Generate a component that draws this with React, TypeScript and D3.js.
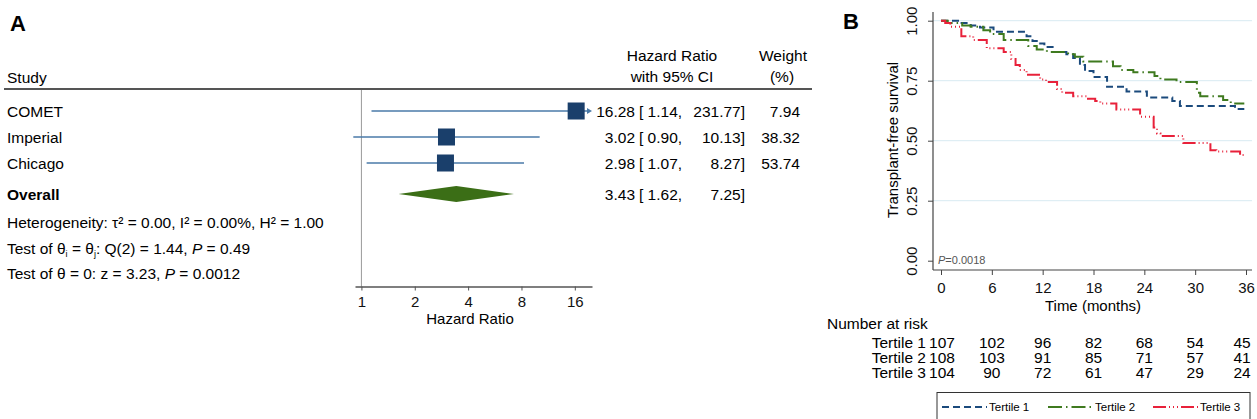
import React, { useEffect, useRef } from 'react';
import * as d3 from 'd3';

const FONT = '"Liberation Sans", Arial, Helvetica, sans-serif';
const FS = 15.5;

// forest plot data
const studies = ['COMET', 'Imperial', 'Chicago'];
const hr = [16.28, 3.02, 2.98];
const ciLow = [1.14, 0.9, 1.07];
const ciHigh = [231.77, 10.13, 8.27];
const weights = [7.94, 38.32, 53.74];
const overallHr = 3.43;
const overallLow = 1.62;
const overallHigh = 7.25;
const hrTicks = [1, 2, 4, 8, 16];

// Kaplan-Meier steps
const t1Times = [0, 2.2, 3.5, 4.6, 6.2, 10.1, 10.8, 11.3, 12.2, 13.3, 14.8, 15.6, 16.4, 17.0, 18.0, 19.6, 21.9, 24.3, 27.3, 28.2, 34.7, 35.8];
const t1Surv = [1.0, 0.99, 0.98, 0.972, 0.954, 0.935, 0.915, 0.905, 0.89, 0.87, 0.86, 0.845, 0.815, 0.79, 0.765, 0.725, 0.705, 0.68, 0.665, 0.645, 0.632, 0.632];
const t2Times = [0, 0.8, 2.5, 3.5, 5.0, 5.8, 7.4, 10.3, 11.3, 12.5, 15.0, 15.8, 16.8, 20.3, 21.2, 22.7, 25.2, 25.9, 27.8, 30.2, 30.6, 33.3, 34.2, 35.8];
const t2Surv = [1.0, 0.99, 0.98, 0.975, 0.96, 0.945, 0.92, 0.895, 0.88, 0.87, 0.86, 0.85, 0.83, 0.81, 0.795, 0.785, 0.77, 0.755, 0.745, 0.7, 0.685, 0.67, 0.655, 0.655];
const t3Times = [0, 0.5, 1.1, 2.4, 3.8, 5.4, 7.4, 8.3, 8.8, 9.3, 10.1, 11.7, 12.4, 13.7, 14.3, 15.6, 17.2, 18.2, 18.8, 20.7, 23.5, 25.1, 25.5, 25.9, 28.6, 31.8, 32.5, 35.3, 35.8];
const t3Surv = [1.0, 0.99, 0.975, 0.935, 0.92, 0.885, 0.87, 0.84, 0.815, 0.795, 0.775, 0.755, 0.745, 0.715, 0.7, 0.685, 0.675, 0.665, 0.655, 0.63, 0.6, 0.555, 0.53, 0.52, 0.49, 0.46, 0.455, 0.44, 0.44];

const tertiles = ['Tertile 1', 'Tertile 2', 'Tertile 3'];
const riskTimes = [0, 6, 12, 18, 24, 30, 36];
const atRisk1 = [107, 102, 96, 82, 68, 54, 45];
const atRisk2 = [108, 103, 91, 85, 71, 57, 41];
const atRisk3 = [104, 90, 72, 61, 47, 29, 24];
const survTicks = [0, 0.25, 0.5, 0.75, 1];

const curveStyles = [
  { color: '#1b4a7c', dash: '7,4' },
  { color: '#3f7a1f', dash: '14,4,1.5,4' },
  { color: '#e8213a', dash: '13,3,1,3,1,3,1,3' },
];

const hrScale = d3.scaleLog().base(2).domain([0.92, 20]).range([355, 592]);
const rowY = d3.scalePoint<string>().domain(studies).range([111, 163]);
const overallY = 194;
const forestAxisY = 286.5;

const tx = d3.scaleLinear().domain([0, 36]).range([941, 1246]);
const sy = d3.scaleLinear().domain([0, 1]).range([260.7, 20.7]);
const kmLeft = 933;
const kmRight = 1252;
const kmBottom = 270;

function App() {
  const forestAxisRef = useRef<SVGGElement>(null);
  const kmXRef = useRef<SVGGElement>(null);
  const kmYRef = useRef<SVGGElement>(null);

  useEffect(() => {
    const g = d3.select(forestAxisRef.current);
    g.selectAll('*').remove();
    g.call(d3.axisBottom(hrScale).tickValues(hrTicks).tickFormat(d3.format('d')).tickSize(4).tickSizeOuter(0).tickPadding(6) as any);
    g.select('.domain').attr('stroke', '#555').attr('stroke-width', 1.5);
    g.selectAll('.tick line').attr('stroke', '#555');
    g.selectAll('.tick text').attr('font-size', 15).attr('fill', '#111').attr('font-family', FONT);

    const gx = d3.select(kmXRef.current);
    gx.selectAll('*').remove();
    gx.call(d3.axisBottom(tx).tickValues(riskTimes).tickSize(5).tickSizeOuter(0).tickPadding(7.5) as any);
    gx.select('.domain').remove();
    gx.selectAll('.tick line').attr('stroke', '#444');
    gx.selectAll('.tick text').attr('font-size', 15).attr('fill', '#111').attr('font-family', FONT);

    const gy = d3.select(kmYRef.current);
    gy.selectAll('*').remove();
    gy.call(d3.axisLeft(sy).tickValues(survTicks).tickFormat(d3.format('.2f')).tickSize(5).tickSizeOuter(0) as any);
    gy.select('.domain').remove();
    gy.selectAll('.tick line').attr('stroke', '#444');
    gy.selectAll('.tick text')
      .attr('font-size', 15)
      .attr('fill', '#111')
      .attr('font-family', FONT)
      .attr('transform', 'rotate(-90)')
      .attr('x', 0)
      .attr('y', -21)
      .attr('dy', '0.35em')
      .attr('text-anchor', 'middle');
  }, []);

  const step = d3
    .line<[number, number]>()
    .x((d) => tx(d[0]))
    .y((d) => sy(d[1]))
    .curve(d3.curveStepAfter);

  const series: [number, number][][] = [
    t1Times.map((t, i) => [t, t1Surv[i]]),
    t2Times.map((t, i) => [t, t2Surv[i]]),
    t3Times.map((t, i) => [t, t3Surv[i]]),
  ];
  const risks = [atRisk1, atRisk2, atRisk3];

  const sq = 17;
  const diamond = `M${hrScale(overallLow)},${overallY} L${hrScale(overallHr)},${overallY - 8} L${hrScale(overallHigh)},${overallY} L${hrScale(overallHr)},${overallY + 8} Z`;
  const hrMax = hrScale.domain()[1];

  const legendX = [942, 1048, 1153];

  return (
    <svg width={1257} height={419} style={{ position: 'absolute', left: 0, top: 0, background: '#fff' }} fontFamily={FONT}>
      {/* Panel A */}
      <text x={10} y={30.5} fontSize={22} fontWeight="bold">A</text>
      <text x={7} y={82.5} fontSize={FS}>Study</text>
      <text x={672} y={60.5} fontSize={FS} textAnchor="middle">Hazard Ratio</text>
      <text x={672} y={82} fontSize={FS} textAnchor="middle">with 95% CI</text>
      <text x={783} y={60.5} fontSize={FS} textAnchor="middle">Weight</text>
      <text x={782} y={82} fontSize={FS} textAnchor="middle">(%)</text>
      <line x1={4} x2={812} y1={89} y2={89} stroke="#555" strokeWidth={2} />
      <line x1={hrScale(1)} x2={hrScale(1)} y1={90} y2={forestAxisY} stroke="#999" strokeWidth={1} />

      {studies.map((s, i) => {
        const y = rowY(s) as number;
        const hi = Math.min(ciHigh[i], hrMax);
        const clipped = ciHigh[i] > hrMax;
        const xHi = hrScale(hi);
        return (
          <g key={s}>
            <line x1={hrScale(ciLow[i])} x2={clipped ? xHi - 4 : xHi} y1={y} y2={y} stroke="#4a7aa8" strokeWidth={1.5} />
            {clipped && <path d={`M${xHi - 5},${y - 3} L${xHi},${y} L${xHi - 5},${y + 3} Z`} fill="#4a7aa8" />}
            <rect x={hrScale(hr[i]) - sq / 2} y={y - sq / 2} width={sq} height={sq} fill="#1a3f6b" />
            <text x={7} y={y + 6} fontSize={FS}>{s}</text>
            <text x={635} y={y + 6} fontSize={FS} textAnchor="end">{hr[i].toFixed(2)}</text>
            <text x={639} y={y + 6} fontSize={FS}>{`[ ${ciLow[i].toFixed(2)},`}</text>
            <text x={745} y={y + 6} fontSize={FS} textAnchor="end">{`${ciHigh[i].toFixed(2)}]`}</text>
            <text x={800} y={y + 6} fontSize={FS} textAnchor="end">{weights[i].toFixed(2)}</text>
          </g>
        );
      })}

      <path d={diamond} fill="#3b6e16" />
      <text x={7} y={overallY + 6} fontSize={FS} fontWeight="bold">Overall</text>
      <text x={635} y={overallY + 6} fontSize={FS} textAnchor="end">{overallHr.toFixed(2)}</text>
      <text x={639} y={overallY + 6} fontSize={FS}>{`[ ${overallLow.toFixed(2)},`}</text>
      <text x={745} y={overallY + 6} fontSize={FS} textAnchor="end">{`${overallHigh.toFixed(2)}]`}</text>

      <text x={7} y={228} fontSize={FS}>Heterogeneity: τ² = 0.00, I² = 0.00%, H² = 1.00</text>
      <text x={7} y={253.5} fontSize={FS}>
        Test of θ<tspan fontSize={9} dy={3}>i</tspan>
        <tspan dy={-3}> = θ</tspan>
        <tspan fontSize={9} dy={3}>j</tspan>
        <tspan dy={-3}>: Q(2) = 1.44, </tspan>
        <tspan fontStyle="italic">P</tspan>
        <tspan> = 0.49</tspan>
      </text>
      <text x={7} y={279} fontSize={FS}>
        Test of θ = 0: z = 3.23, <tspan fontStyle="italic">P</tspan> = 0.0012
      </text>

      <g ref={forestAxisRef} transform={`translate(0,${forestAxisY})`} />
      <text x={470} y={323.5} fontSize={15} textAnchor="middle">Hazard Ratio</text>

      {/* Panel B */}
      <text x={843} y={29} fontSize={22} fontWeight="bold">B</text>
      {survTicks.filter((v) => v > 0).map((v) => (
        <line key={v} x1={kmLeft} x2={kmRight} y1={sy(v)} y2={sy(v)} stroke="#d8eaf2" strokeWidth={1} />
      ))}
      {series.map((d, i) => (
        <path key={i} d={step(d) as string} fill="none" stroke={curveStyles[i].color} strokeWidth={2} strokeDasharray={curveStyles[i].dash} />
      ))}
      <line x1={kmLeft} x2={kmLeft} y1={12} y2={kmBottom} stroke="#444" strokeWidth={1.2} />
      <line x1={kmLeft} x2={kmRight} y1={kmBottom} y2={kmBottom} stroke="#444" strokeWidth={1.2} />
      <g ref={kmXRef} transform={`translate(0,${kmBottom})`} />
      <g ref={kmYRef} transform={`translate(${kmLeft},0)`} />
      <text transform={`translate(893,${140}) rotate(-90)`} fontSize={15} textAnchor="middle" dy="0.35em">Transplant-free survival</text>
      <text x={1093} y={311} fontSize={15} textAnchor="middle">Time (months)</text>
      <text x={938} y={264} fontSize={11} fill="#555">
        <tspan fontStyle="italic">P</tspan>=0.0018
      </text>

      {/* Number at risk */}
      <text x={827} y={328.5} fontSize={FS}>Number at risk</text>
      {tertiles.map((name, i) => (
        <g key={name}>
          <text x={926} y={347.5 + i * 15} fontSize={FS} textAnchor="end">{name}</text>
          {riskTimes.map((t, j) => (
            <text key={t} x={j === 0 ? tx(t) + 1 : j === riskTimes.length - 1 ? tx(t) - 4 : tx(t)} y={347.5 + i * 15} fontSize={FS} textAnchor="middle">
              {risks[i][j]}
            </text>
          ))}
        </g>
      ))}

      {/* legend */}
      <rect x={937} y={392.5} width={313} height={40} fill="#fff" stroke="#333" strokeWidth={1} />
      {tertiles.map((name, i) => (
        <g key={name}>
          <line x1={legendX[i]} x2={legendX[i] + 45} y1={407} y2={407} stroke={curveStyles[i].color} strokeWidth={2} strokeDasharray={curveStyles[i].dash} />
          <text x={legendX[i] + 47} y={411} fontSize={11.5}>{name}</text>
        </g>
      ))}
    </svg>
  );
}

export default App;
